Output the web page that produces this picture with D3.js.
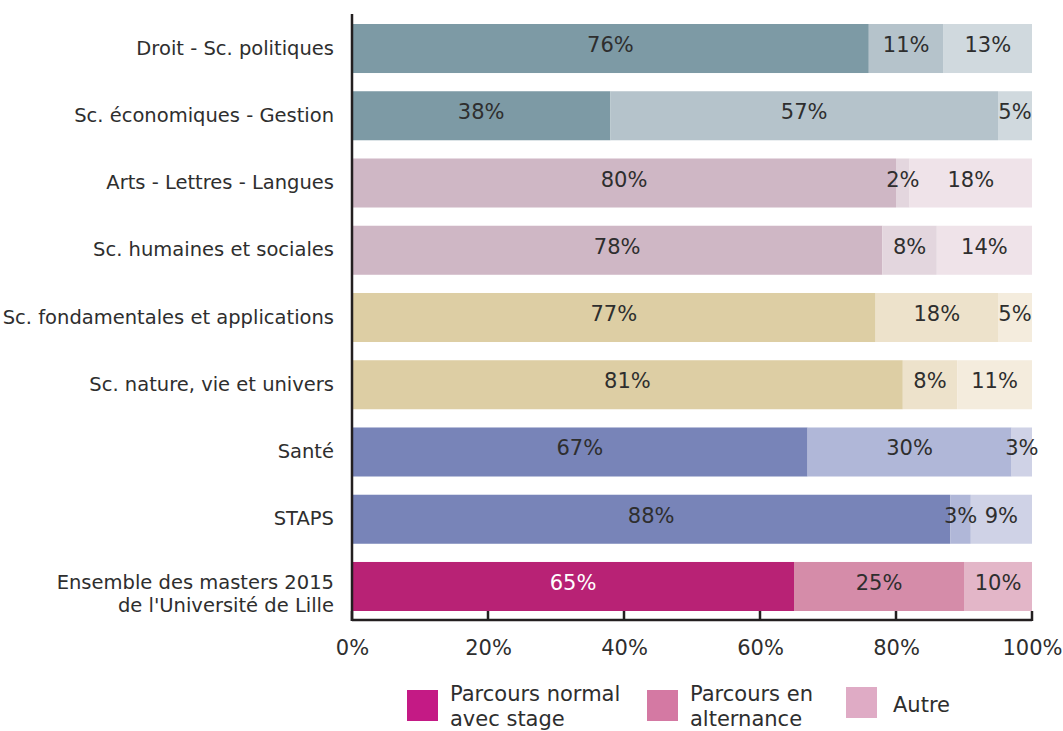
<!DOCTYPE html>
<html><head><meta charset="utf-8">
<script src="https://cdn.jsdelivr.net/npm/d3@7"></script>
<style>body{margin:0;background:#fff}text{font-family:"DejaVu Sans",Verdana,sans-serif}</style>
</head><body>
<svg id="c" width="1063" height="731"></svg>
<script>
const categories = ["Droit - Sc. politiques","Sc. économiques - Gestion","Arts - Lettres - Langues","Sc. humaines et sociales","Sc. fondamentales et applications","Sc. nature, vie et univers","Santé","STAPS","Ensemble des masters 2015\nde l'Université de Lille"];
const normal = [76,38,80,78,77,81,67,88,65];
const alternance = [11,57,2,8,18,8,30,3,25];
const autre = [13,5,18,14,5,11,3,9,10];
const series = ["Parcours normal avec stage","Parcours en alternance","Autre"];
const ticks = [0,20,40,60,80,100];
const palettes = [
  ["#7d9aa5","#b5c3cb","#d0d9de"],
  ["#7d9aa5","#b5c3cb","#d0d9de"],
  ["#cfb7c5","#e3d6de","#efe3e9"],
  ["#cfb7c5","#e3d6de","#efe3e9"],
  ["#ddcea4","#ede2cb","#f4ecdd"],
  ["#ddcea4","#ede2cb","#f4ecdd"],
  ["#7884b8","#b0b7d8","#cfd2e6"],
  ["#7884b8","#b0b7d8","#cfd2e6"],
  ["#b82275","#d58ca9","#e3b6c8"]
];
const legendColors = ["#c41a85","#d479a3","#dfabc5"];

const svg = d3.select("#c");
const x = d3.scaleLinear().domain([0,100]).range([352,1032]);
const y = d3.scaleBand().domain(categories).range([24,611]).paddingInner(0.271).paddingOuter(0);
const txt = "#2e2e2e";

const rows = categories.map((c,i)=>{
  const vals=[normal[i],alternance[i],autre[i]];
  let acc=0;
  return vals.map((v,k)=>{const s={cat:c,i,k,v,x0:acc,x1:acc+v};acc+=v;return s;});
});
const g = svg.append("g");
rows.forEach(r=>{
  g.selectAll(null).data(r).enter().append("rect")
    .attr("x",d=>x(d.x0)).attr("width",d=>x(d.x1)-x(d.x0))
    .attr("y",d=>y(d.cat)).attr("height",y.bandwidth())
    .attr("fill",d=>palettes[d.i][d.k]);
  g.selectAll(null).data(r).enter().append("text")
    .attr("x",d=>x((d.x0+d.x1)/2)).attr("y",d=>y(d.cat)+y.bandwidth()/2+3.5)
    .attr("text-anchor","middle").attr("font-size",21)
    .attr("fill",d=>(d.i===8&&d.k===0)?"#ffffff":txt)
    .text(d=>d.v+"%");
});

// category labels
categories.forEach(c=>{
  const lines=c.split("\n");
  const t=svg.append("text").attr("text-anchor","end").attr("font-size",19.5).attr("fill",txt);
  const cy=y(c)+y.bandwidth()/2;
  lines.forEach((l,j)=>{
    t.append("tspan").attr("x",334).attr("y",lines.length===1?cy+6:cy+3+j*23).text(l);
  });
});

// axes
const ax = svg.append("g").attr("transform","translate(0,620)")
  .call(d3.axisBottom(x).tickValues(ticks).tickSize(0).tickPadding(0).tickFormat(d=>d+"%"));
ax.select(".domain").remove();
ax.selectAll("text").attr("font-size",21).attr("fill",txt).attr("font-family","DejaVu Sans").attr("dy",null).attr("y",35);
svg.append("line").attr("x1",x(0)).attr("x2",x(100)).attr("y1",620).attr("y2",620).attr("stroke","#231f20").attr("stroke-width",2.5);
svg.selectAll(null).data(ticks).enter().append("line")
  .attr("x1",d=>x(d)).attr("x2",d=>x(d)).attr("y1",611).attr("y2",621).attr("stroke","#231f20").attr("stroke-width",2.5);
svg.append("line").attr("x1",x(0)).attr("x2",x(0)).attr("y1",14).attr("y2",621).attr("stroke","#231f20").attr("stroke-width",2.5);

// legend
const legend = [
  {c:legendColors[0],x:407,y:690,lines:["Parcours normal","avec stage"]},
  {c:legendColors[1],x:647,y:690,lines:["Parcours en","alternance"]},
  {c:legendColors[2],x:846,y:687,lines:["Autre"]}
];
legend.forEach((l,i)=>{
  svg.append("rect").attr("x",l.x).attr("y",l.y).attr("width",31).attr("height",31).attr("fill",l.c);
  const t=svg.append("text").attr("font-size",21).attr("fill",txt);
  l.lines.forEach((s,j)=>{
    t.append("tspan").attr("x",l.x+(i===2?47:43)).attr("y",l.lines.length===1?712:701+j*25).text(s);
  });
});
</script>
</body></html>
